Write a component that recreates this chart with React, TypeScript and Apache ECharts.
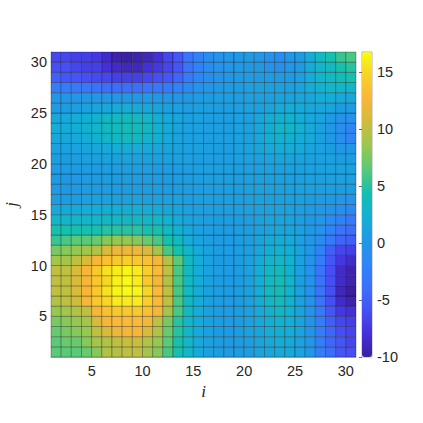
import React, { useEffect, useRef } from "react";
import * as echarts from "echarts";

const r01 = [6.5,6.5,6.5,7,8,9.5,9.5,10,10,9,8,6,4.5,3,1.7,1,0.7,0.5,0.7,0.8,1.2,1.5,1.7,1.7,1.2,0,-2.5,-4,-5.5,-6];
const r02 = [6.5,7,7,8,9,9.5,10,10.3,10.3,9.5,8.5,6.5,4.5,3,1.7,1,0.7,0.5,0.7,0.8,1.3,1.7,2,1.8,1.2,0,-2.5,-4.5,-5.5,-6.5];
const r03 = [7,7.5,8,8.5,10,11,12,12.5,12.5,11,9.5,7,5,3,1.7,1,0.7,0.5,0.7,1,1.4,2,2.3,2,1.2,-0.2,-2.5,-4.5,-6,-6.5];
const r04 = [7.5,8,8.5,9,11,12.5,13,13,13,12.5,10,7.5,5,3,1.8,1,0.7,0.5,0.7,1,1.5,2.3,2.7,2.2,1.2,-0.2,-2.5,-5,-6.5,-7];
const r05 = [8.5,9,9.5,10,12.5,13.5,14,14,14,13.5,12.5,9,6,3.5,2,1,0.7,0.5,0.7,1,1.7,2.7,3.2,2.5,1.2,-0.3,-3,-5.5,-7.5,-8];
const r06 = [9.5,10,10.5,12.5,14,15,16,16,16,14.5,13,10,6,3.5,2,1,0.7,0.5,0.7,1,2,3.2,3.7,2.7,1,-0.5,-3.5,-6,-8.5,-9.5];
const r07 = [10,10,11,12.5,14,15.5,16.5,16.8,16.5,15,13,10,6,3.5,2,1,0.7,0.5,0.7,1,2,3.5,4,2.8,1,-0.5,-3.5,-6,-9,-10];
const r08 = [10,10,11,12.5,14,15,16.3,16.8,16,14,12.5,9.5,6,3.5,2,1,0.7,0.5,0.7,1,2,3.5,4,2.8,0.8,-0.5,-3.5,-6,-8.5,-9.5];
const r09 = [10,10,11,12.5,14,15.5,16,16.5,16,14.5,13,10,6,3.5,2,1,0.7,0.5,0.7,1,2,3.2,3.8,2.7,1,-0.5,-3.5,-6,-8.5,-9.5];
const r10 = [9,9,10,11,12.5,13.5,14,14.5,14,13.5,12.5,9.5,6.5,3.5,2,1,0.7,0.5,0.7,1,1.7,2.8,3.2,2.5,1,-0.3,-2.5,-5.5,-7.5,-8.5];
const r11 = [7.5,8,8.5,9,9.5,11,12,12,12,11,9,6,4.5,3,1.7,1,0.7,0.5,0.7,0.8,1.4,2.3,2.7,2.2,1.2,0,-2,-5,-6.5,-7];
const r12 = [5.5,6,6.5,6.5,7,8,8.5,8.5,8,7,6,4.5,3.5,2,1.2,0.8,0.6,0.5,0.7,0.8,1.2,1.8,2,1.8,1,0,-1,-3,-4.5,-5];
const r13 = [4.5,4.5,4.5,4.5,4.5,5,5,5,5,4.5,4.5,3.5,2.5,1.5,1,0.8,0.6,0.5,0.7,0.8,1,1.4,1.5,1.4,0.9,0.3,-0.5,-2,-3.5,-4];
const r14 = [3,3,3,3,3,3.3,3.3,3.3,3.3,3,3,2.5,1.8,1.2,1,0.8,0.7,0.7,0.7,0.8,1,1.2,1.2,1.2,0.8,0.3,0,-1,-2,-3];
const r15 = [1.7,1.7,1.8,2,2,2.2,2.2,2.2,2.2,2,1.8,1.6,1.3,1,0.9,0.8,0.8,0.8,0.8,0.9,1,1.1,1.1,1,0.8,0.5,0.2,-0.3,-0.8,-1.5];
const r16 = [0.6,0.7,0.7,1,1,1,1.1,1.1,1.1,1,1,1,0.9,0.8,0.8,0.8,0.8,0.8,0.8,0.9,1,1,1,1,0.9,0.7,0.5,0.3,0,-0.3];
const r17 = [0.3,0.3,0.4,0.5,0.6,0.7,0.7,0.7,0.7,0.7,0.7,0.7,0.7,0.8,0.8,0.8,0.8,0.8,0.8,0.9,0.9,1,1,1,1,0.9,0.8,0.8,0.7,0.7];
const r18 = [0.3,0.3,0.4,0.5,0.6,0.7,0.7,0.8,0.8,0.7,0.7,0.7,0.7,0.8,0.8,0.8,0.8,0.8,0.8,0.9,1,1,1,1,1,1,0.9,0.9,0.9,0.9];
const r19 = [0.5,0.5,0.6,0.6,0.7,0.8,0.8,0.8,0.8,0.8,0.7,0.7,0.7,0.8,0.8,0.8,0.8,0.8,0.8,0.9,1,1,1,1.1,1.1,1,1,1,1,1];
const r20 = [0.7,0.7,0.8,0.9,1,1,1.1,1.2,1.1,1,1,0.9,0.9,0.9,0.8,0.8,0.8,0.8,0.9,1,1,1.2,1.3,1.3,1.2,1,1,1,0.7,0.7];
const r21 = [1,1,1.2,1.3,1.5,1.7,2,2,2,1.7,1.5,1.3,1.1,1,0.9,0.8,0.8,0.8,0.9,1,1.3,1.7,2,2,1.7,1.3,1,0.7,0,0];
const r22 = [1.5,1.5,1.7,2,2.4,3,3.3,3.5,3.3,2.8,2.3,1.7,1.2,1,0.9,0.8,0.8,0.8,0.9,1.1,1.5,2.2,2.5,2.5,2,1.7,1,0.3,-0.8,-1.7];
const r23 = [2,2,2.2,2.5,3,3.5,3.8,4,3.8,3.3,2.5,1.8,1.3,1,0.9,0.8,0.8,0.8,0.9,1.1,1.5,2.2,3,3,2.5,1.7,1,0.3,-0.8,-1.7];
const r24 = [1.5,1.7,2,2.3,2.7,3.2,3.5,3.7,3.5,3,2.3,1.7,1.3,1,0.9,0.8,0.8,0.8,0.9,1,1.5,2,2.5,2.7,2,1.5,1.2,0.5,-0.5,-0.5];
const r25 = [0.5,0.7,0.8,1,1.3,1.6,1.8,2,1.8,1.6,1.3,1,0.9,0.8,0.8,0.8,0.8,0.8,0.9,1,1,1.3,1.7,2,1.7,1.5,1.5,1.2,0.7,0.5];
const r26 = [0,0,0,0,0.1,0.2,0.2,0.2,0.2,0.2,0.2,0.1,0.1,0.3,0.5,0.7,0.8,0.8,0.8,0.9,1,1,1.3,1.3,1.5,1.5,2,2,1.7,1.5];
const r27 = [-2.7,-2.7,-3,-3.2,-3.7,-4,-4,-4,-4,-3.7,-3.3,-2.8,-2.2,-1.3,-0.5,0,0.3,0.6,0.7,0.9,1,1,1,1,1.3,2,2.5,3,3,3];
const r28 = [-5,-5.5,-5.7,-6,-6.3,-6.5,-7,-7,-7,-6.5,-6,-5.5,-4.5,-3,-1.7,-1,-0.3,0,0.3,0.5,0.5,0.5,0.5,0.7,1,2,3,3.5,4,4.5];
const r29 = [-6,-6,-6.5,-7,-7,-8,-8.5,-9,-9,-8,-7.5,-6.5,-5.5,-3.5,-2,-1,-0.5,0,0.3,0.3,0.3,-0.3,-0.7,0,0.5,2,3,3.5,4.5,5];
const r30 = [-6.5,-6.5,-7,-7,-7.5,-8.5,-9.5,-9.8,-9.5,-9,-8,-6.5,-5.5,-3.5,-2,-1,-0.5,0,0.3,0.5,0,-0.5,-1,0,0.5,2,3.5,4.5,5.5,6];

const rows = [r01,r02,r03,r04,r05,r06,r07,r08,r09,r10,r11,r12,r13,r14,r15,r16,r17,r18,r19,r20,r21,r22,r23,r24,r25,r26,r27,r28,r29,r30];
const xTicks = [5, 10, 15, 20, 25, 30];
const yTicks = [5, 10, 15, 20, 25, 30];
const barTicks = [-10, -5, 0, 5, 10, 15];
const valueMin = -10;
const valueMax = 16.8;
const parula = ["#3b1f9e","#4331da","#4651f5","#3b71fb","#2e86f6","#2099e4","#12b0d4","#14bfb0","#5ac978","#98c850","#d0bc3a","#fab53a","#f8d226","#f9fb15"];

const cells: number[][] = [];
rows.forEach((row, j) => row.forEach((v, i) => cells.push([i + 1, j + 1, v])));

const textColor = "#262626";
const sans = "'Liberation Sans', Arial, sans-serif";
const nameStyle = { fontFamily: "'Liberation Serif', serif", fontStyle: "italic", fontSize: 17, color: textColor };

export default function App() {
  const ref = useRef<HTMLDivElement>(null);
  useEffect(() => {
    const chart = echarts.init(ref.current!, null, { renderer: "svg" });
    chart.setOption({
      animation: false,
      backgroundColor: "#fff",
      grid: [
        { left: 51, top: 52, width: 305, height: 305, outerBoundsMode: "none" },
        { left: 362, top: 52, width: 10, height: 305, outerBoundsMode: "none", show: true, borderColor: "#b0b0b0", borderWidth: 1, backgroundColor: "transparent" },
      ],
      xAxis: [
        {
          type: "value", gridIndex: 0, min: 1, max: 31, name: "i", nameLocation: "middle", nameGap: 23,
          nameTextStyle: nameStyle,
          splitLine: { show: false },
          axisLine: { show: true, onZero: false, lineStyle: { color: "#b5b5b5" } },
          axisTick: { show: false, customValues: xTicks },
          axisLabel: { customValues: xTicks, fontFamily: sans, fontSize: 14.5, color: textColor, margin: 6 },
        },
        { type: "value", gridIndex: 1, min: 0, max: 1, show: false },
      ],
      yAxis: [
        {
          type: "value", gridIndex: 0, min: 1, max: 31, name: "j", nameLocation: "middle", nameGap: 17,
          nameTextStyle: nameStyle,
          splitLine: { show: false },
          axisLine: { show: true, onZero: false, lineStyle: { color: "#b5b5b5" } },
          axisTick: { show: false, customValues: yTicks },
          axisLabel: { customValues: yTicks, fontFamily: sans, fontSize: 14.5, color: textColor, margin: 4 },
        },
        {
          type: "value", gridIndex: 1, min: valueMin, max: valueMax, position: "right", z: 10,
          splitLine: { show: false },
          axisLine: { show: false },
          axisTick: { show: true, inside: true, length: 3, customValues: barTicks, lineStyle: { color: "#333", width: 0.7 } },
          axisLabel: { customValues: barTicks, fontFamily: sans, fontSize: 14.5, color: textColor, margin: 5 },
        },
      ],
      visualMap: {
        type: "continuous", seriesIndex: 0, dimension: 2, min: valueMin, max: valueMax,
        inRange: { color: parula }, left: 362, top: 52, itemWidth: 10, itemHeight: 305,
        padding: 0, text: ["", ""], calculable: false, realtime: false, hoverLink: false, showLabel: false,
      },
      series: [
        {
          type: "custom", coordinateSystem: "cartesian2d", xAxisIndex: 0, yAxisIndex: 0,
          encode: { x: 0, y: 1 }, data: cells, silent: true,
          renderItem: (_: any, api: any) => {
            const i = api.value(0), j = api.value(1);
            const a = api.coord([i, j + 1]);
            const b = api.coord([i + 1, j]);
            return {
              type: "rect",
              shape: { x: a[0], y: a[1], width: b[0] - a[0], height: b[1] - a[1] },
              style: { fill: api.visual("color"), stroke: "rgba(0,0,0,0.4)", lineWidth: 0.7 },
            };
          },
        },
      ],
    });
    return () => chart.dispose();
  }, []);
  return <div ref={ref} style={{ position: "fixed", left: 0, top: 0, width: 423, height: 423 }} />;
}
